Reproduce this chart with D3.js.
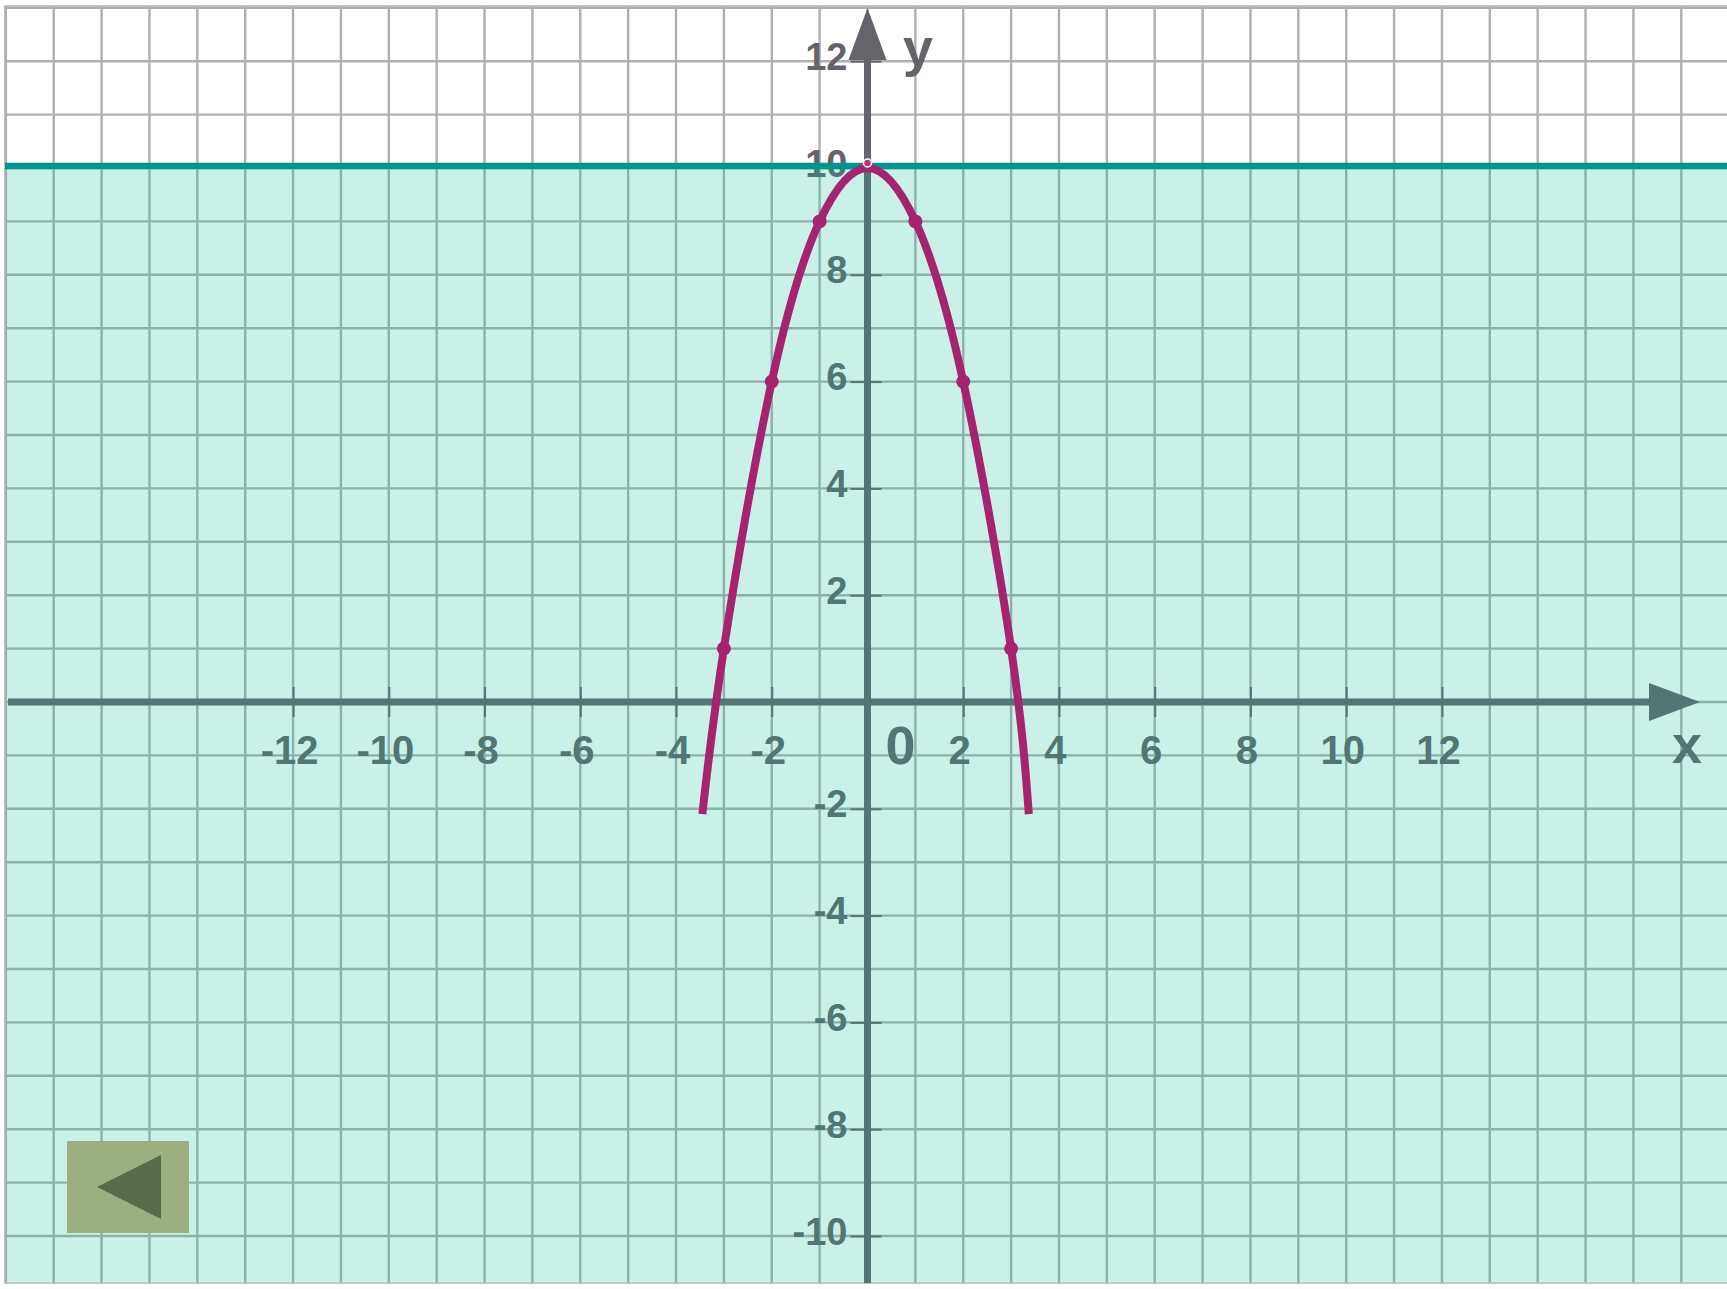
<!DOCTYPE html>
<html>
<head>
<meta charset="utf-8">
<script src="https://cdn.jsdelivr.net/npm/d3@7"></script>
<style>
  html, body { margin: 0; padding: 0; background: #ffffff; }
  svg { display: block; }
  text { font-family: "Liberation Sans", Arial, sans-serif; font-weight: bold; }
</style>
</head>
<body>
<div id="chart"></div>
<script>
(function () {

	// tick labels
	var xTicks = [-12, -10, -8, -6, -4, -2, 2, 4, 6, 8, 10, 12];
	var yTicks = [-10, -8, -6, -4, -2, 2, 4, 6, 8, 10, 12];

	// the parabola as drawn on the slide
	var curveX = [-3.45, -3, -2, -1, 0, 1, 2, 3, 3.37];
	var curveY = [-2.1, 1, 6, 9, 10, 9, 6, 1, -2.1];

	// marked points on the curve
	var pointX = [-3, -2, -1, 1, 2, 3];
	var pointY = [1, 6, 9, 9, 6, 1];

	// horizontal line y = 10, region below it shaded
	var level = 10;

	// grid cells, one unit each
	var gridCols = d3.range(-18, 19);
	var gridRows = d3.range(-10, 14);

	var W = 1727, H = 1289;
	var left = 5, top = 6, bottom = 1283;

	var axisColor = '#67636b';
	var curveColor = '#a6246f';

	var x = d3.scaleLinear().domain([0, 1]).range([867.5, 867.5 + 47.87]);
	var y = d3.scaleLinear().domain([0, 1]).range([702, 702 - 53.4]);

	var svg = d3.select('#chart').append('svg')
		.attr('width', W)
		.attr('height', H);

	// panel
	svg.append('rect')
		.attr('x', left).attr('y', top)
		.attr('width', W - left + 5).attr('height', bottom - top)
		.attr('fill', '#ffffff')
		.attr('stroke', '#c6c6c6')
		.attr('stroke-width', 2);

	var grid = svg.append('g');
	grid.selectAll('line.v').data(gridCols).enter()
		.append('line')
		.attr('x1', function (d) { return x(d); })
		.attr('x2', function (d) { return x(d); })
		.attr('y1', top).attr('y2', bottom)
		.attr('stroke', '#b0b0b0')
		.attr('stroke-width', 2.4);
	grid.selectAll('line.h').data(gridRows).enter()
		.append('line')
		.attr('y1', function (d) { return y(d); })
		.attr('y2', function (d) { return y(d); })
		.attr('x1', left).attr('x2', W)
		.attr('stroke', '#b0b0b0')
		.attr('stroke-width', 2.4);

	// axes lines
	svg.append('line')
		.attr('x1', 8).attr('x2', 1652)
		.attr('y1', y(0)).attr('y2', y(0))
		.attr('stroke', axisColor).attr('stroke-width', 7);
	svg.append('path')
		.attr('d', 'M1649,' + (y(0) - 19) + 'L1700,' + y(0) + 'L1649,' + (y(0) + 19) + 'Z')
		.attr('fill', axisColor);

	svg.append('line')
		.attr('x1', x(0)).attr('x2', x(0))
		.attr('y1', bottom).attr('y2', 58)
		.attr('stroke', axisColor).attr('stroke-width', 7);
	svg.append('path')
		.attr('d', 'M' + (x(0) - 19) + ',60L' + x(0) + ',8L' + (x(0) + 19) + ',60Z')
		.attr('fill', axisColor);

	// x axis ticks
	var gx = svg.append('g')
		.attr('transform', 'translate(0,' + y(0) + ')')
		.call(d3.axisBottom(x).tickValues(xTicks).tickFormat(function (d) { return String(d); }));
	gx.select('.domain').remove();
	gx.selectAll('.tick line')
		.attr('y1', -15).attr('y2', 15)
		.attr('stroke', axisColor).attr('stroke-width', 2);
	gx.selectAll('.tick text')
		.attr('y', 62).attr('dy', null).attr('x', -4)
		.attr('fill', axisColor)
		.attr('font-size', 40)
		.attr('font-family', '"Liberation Sans", Arial, sans-serif')
		.attr('font-weight', 'bold');

	// y axis ticks
	var gy = svg.append('g')
		.attr('transform', 'translate(' + x(0) + ',0)')
		.call(d3.axisLeft(y).tickValues(yTicks).tickFormat(function (d) { return String(d); }));
	gy.select('.domain').remove();
	gy.selectAll('.tick line')
		.attr('x1', -17).attr('x2', 14)
		.attr('stroke', axisColor).attr('stroke-width', 2);
	gy.selectAll('.tick text')
		.attr('x', -20).attr('dy', null).attr('y', 8)
		.attr('text-anchor', 'end')
		.attr('fill', axisColor)
		.attr('font-size', 38)
		.attr('font-family', '"Liberation Sans", Arial, sans-serif')
		.attr('font-weight', 'bold');

	svg.append('text')
		.attr('x', x(0) + 33).attr('y', y(0) + 62)
		.attr('text-anchor', 'middle')
		.attr('font-size', 54)
		.attr('fill', axisColor)
		.text('0');
	svg.append('text')
		.attr('x', 1687).attr('y', 763)
		.attr('text-anchor', 'middle')
		.attr('font-size', 54)
		.attr('fill', axisColor)
		.text('x');
	svg.append('text')
		.attr('x', 903).attr('y', 66)
		.attr('font-size', 54)
		.attr('fill', axisColor)
		.text('y');

	// shaded region y <= 10 (drawn over grid and axes, tints them)
	svg.append('rect')
		.attr('x', left + 1).attr('y', y(level))
		.attr('width', W - left).attr('height', bottom - 1 - y(level))
		.attr('fill', 'rgb(0,190,145)')
		.attr('fill-opacity', 0.21);

	svg.append('line')
		.attr('x1', left).attr('x2', W)
		.attr('y1', y(level) - 2).attr('y2', y(level) - 2)
		.attr('stroke', '#00968f')
		.attr('stroke-width', 6.5);

	// parabola
	var line = d3.line()
		.x(function (d) { return x(d[0]); })
		.y(function (d) { return y(d[1]); })
		.curve(d3.curveNatural);

	svg.append('path')
		.attr('d', line(d3.zip(curveX, curveY)))
		.attr('fill', 'none')
		.attr('stroke', curveColor)
		.attr('stroke-width', 8);

	svg.selectAll('circle.pt').data(d3.zip(pointX, pointY)).enter()
		.append('circle')
		.attr('cx', function (d) { return x(d[0]); })
		.attr('cy', function (d) { return y(d[1]); })
		.attr('r', 7)
		.attr('fill', curveColor);

	svg.append('circle')
		.attr('cx', x(0)).attr('cy', y(level) - 5)
		.attr('r', 4)
		.attr('fill', '#c42d7e')
		.attr('stroke', '#ffffff')
		.attr('stroke-width', 1.5);

	// back button
	svg.append('rect')
		.attr('x', 67).attr('y', 1141)
		.attr('width', 122).attr('height', 92)
		.attr('fill', '#9caf80');
	svg.append('path')
		.attr('d', 'M97,1187L161,1155L161,1219Z')
		.attr('fill', '#5c6a4c');

})();
</script>
</body>
</html>
